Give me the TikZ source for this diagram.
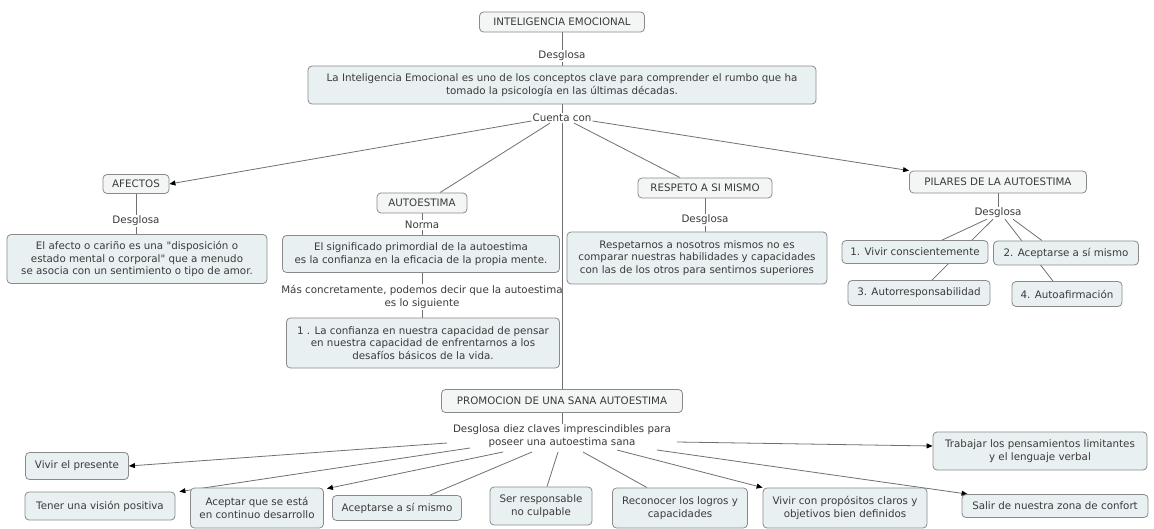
\documentclass[tikz,border=0pt]{standalone}
\usepackage{fontspec}
\setmainfont{DejaVu Sans}
\newfontfamily\plainfont{DejaVu Sans}
\usetikzlibrary{calc,arrows.meta,backgrounds}
\definecolor{txt}{HTML}{3A3A3A}
\definecolor{edgec}{HTML}{707070}
\definecolor{boxc}{HTML}{8A8A8A}
\definecolor{cfill}{HTML}{F4F6F6}
\definecolor{dfill}{HTML}{E9F0F2}
\begin{document}
\begin{tikzpicture}[x=1pt,y=-1pt,
  font=\fontsize{10.3}{12.5}\selectfont, text=txt,
  concept/.style={draw=boxc, line width=0.8pt, rounded corners=4pt, fill=cfill, inner sep=2pt, align=center},
  detail/.style={concept, fill=dfill},
  linkp/.style={inner sep=1pt, align=center},
  conn/.style={draw=edgec, line width=0.8pt},
  arr/.style={conn, -{Triangle[length=6pt,width=5pt,color=black]}}
]
\useasboundingbox (0,0) rectangle (1154,529);

% top
\node[concept, minimum width=165, minimum height=20] (ie) at (562,22) {INTELIGENCIA EMOCIONAL};
\node[linkp] (d1) at (562,56) {Desglosa};
\node[detail, minimum width=508, minimum height=38] (main) at (562,85) {La Inteligencia Emocional es uno de los conceptos clave para comprender el rumbo que ha\\tomado la psicología en las últimas décadas.};
\node[linkp] (cc) at (562,118) {Cuenta con};

% afectos
\node[concept, minimum width=66, minimum height=19] (af) at (136,184) {AFECTOS};
\node[linkp] (d2) at (136,221) {Desglosa};
\node[detail, minimum width=260, minimum height=49, font=\plainfont\fontsize{10.3}{12.5}\selectfont] (aft) at (137,259) {El afecto o cariño es una "disposición o\\estado mental o corporal" que a menudo\\se asocia con un sentimiento o tipo de amor.};

% autoestima
\node[concept, minimum width=90, minimum height=20] (au) at (422,203) {AUTOESTIMA};
\node[linkp] (nm) at (422,225) {Norma};
\node[detail, minimum width=277, minimum height=37] (aut1) at (421,254) {El significado primordial de la autoestima\\es la confianza en la eficacia de la propia mente.};
\node[linkp] (mc) at (422,297) {Más concretamente, podemos decir que la autoestima\\es lo siguiente};
\node[detail, minimum width=273, minimum height=50] (aut2) at (423,343) {1 . La confianza en nuestra capacidad de pensar\\en nuestra capacidad de enfrentarnos a los\\desafíos básicos de la vida.};

% respeto
\node[concept, minimum width=134, minimum height=20] (rs) at (705,188) {RESPETO A SI MISMO};
\node[linkp] (d3) at (705,220) {Desglosa};
\node[detail, minimum width=260, minimum height=52] (rst) at (697,258) {Respetarnos a nosotros mismos no es\\comparar nuestras habilidades y capacidades\\con las de los otros para sentirnos superiores};

% pilares
\node[concept, minimum width=177, minimum height=22] (pa) at (998,182) {PILARES DE LA AUTOESTIMA};
\node[linkp] (d4) at (998,213) {Desglosa};
\node[detail, minimum width=146, minimum height=23] (p1) at (915,252) {1. Vivir conscientemente};
\node[detail, minimum width=145, minimum height=24] (p2) at (1066,253) {2. Aceptarse a sí mismo};
\node[detail, minimum width=142, minimum height=25] (p3) at (919,293) {3. Autorresponsabilidad};
\node[detail, minimum width=110, minimum height=25] (p4) at (1067,294) {4. Autoafirmación};

% promocion
\node[concept, minimum width=241, minimum height=23] (pr) at (562,401) {PROMOCION DE UNA SANA AUTOESTIMA};
\node[linkp] (dz) at (562,436) {Desglosa diez claves imprescindibles para\\poseer una autoestima sana};
\node[detail, minimum width=103, minimum height=27] (vp) at (77,466) {Vivir el presente};
\node[detail, minimum width=150, minimum height=28] (tv) at (100,506) {Tener una visión positiva};
\node[detail, minimum width=133, minimum height=40] (aq) at (257,508) {Aceptar que se está\\en continuo desarrollo};
\node[detail, minimum width=129, minimum height=25] (as) at (397,508) {Aceptarse a sí mismo};
\node[detail, minimum width=102, minimum height=38] (sr) at (541,506) {Ser responsable\\no culpable};
\node[detail, minimum width=135, minimum height=40] (rl) at (680,508) {Reconocer los logros y\\capacidades};
\node[detail, minimum width=164, minimum height=40] (vc) at (845,508) {Vivir con propósitos claros y\\objetivos bien definidos};
\node[detail, minimum width=186, minimum height=23] (sz) at (1055,506) {Salir de nuestra zona de confort};
\node[detail, minimum width=214, minimum height=38] (tp) at (1040,451) {Trabajar los pensamientos limitantes\\y el lenguaje verbal};

\begin{scope}[on background layer]
  \fill[white] (0,0) rectangle (1154,529);
  \draw[conn] (ie.south) -- (d1.north);
  \draw[conn] (d1.south) -- (main.north);
  \draw[conn] (main.south) -- (cc.north);
  \draw[arr] ($(cc.west)+(0,3)$) -- (af.east);
  \draw[conn] ($(cc.south)+(-12,0)$) -- ($(au.north)+(18,0)$);
  \draw[conn] (cc.south) -- (pr.north);
  \draw[conn] ($(cc.south)+(12,0)$) -- ($(rs.north)+(-25,0)$);
  \draw[arr] ($(cc.east)+(0,3)$) -- (pa.north west);
  % afectos
  \draw[conn] (af.south) -- (d2.north);
  \draw[conn] (d2.south) -- (d2.south |- aft.north);
  % autoestima
  \draw[conn] (au.south) -- (nm.north);
  \draw[conn] (nm.south) -- (nm.south |- aut1.north);
  \draw[conn] (mc.north |- aut1.south) -- (mc.north);
  \draw[conn] (mc.south) -- (mc.south |- aut2.north);
  % respeto
  \draw[conn] (rs.south) -- (d3.north);
  \draw[conn] (d3.south) -- (d3.south |- rst.north);
  % pilares
  \draw[conn] (pa.south) -- (d4.north);
  \draw[conn] ($(d4.south)+(-11,0)$) -- ($(p1.north)+(27,0)$);
  \draw[conn] ($(d4.south)+(-5,0)$) -- ($(p3.north)+(13,0)$);
  \draw[conn] ($(d4.south)+(15,0)$) -- ($(p2.north)+(-24,0)$);
  \draw[conn] ($(d4.south)+(7,0)$) -- ($(p4.north)+(-14,0)$);
  % promocion
  \draw[conn] (pr.south) -- (dz.north);
  \draw[arr] ($(dz.center)+(-115,7)$) -- (vp.east);
  \draw[arr] ($(dz.center)+(-92,12)$) -- ($(tv.north east)+(4,0)$);
  \draw[arr] ($(dz.center)+(-59,16)$) -- ($(aq.north east)+(3,1)$);
  \draw[conn] ($(dz.center)+(-30,16)$) -- ($(as.north)+(33,0)$);
  \draw[conn] ($(dz.center)+(-4,16)$) -- ($(sr.north)+(6,0)$);
  \draw[conn] ($(dz.center)+(21,16)$) -- ($(rl.north)+(-33,0)$);
  \draw[arr] ($(dz.center)+(55,14)$) -- (vc.north west);
  \draw[arr] ($(dz.center)+(95,14)$) -- ($(sz.north west)+(6,0)$);
  \draw[arr] ($(dz.center)+(115,6)$) -- ($(tp.west)+(0,-5)$);
\end{scope}
\end{tikzpicture}
\end{document}
